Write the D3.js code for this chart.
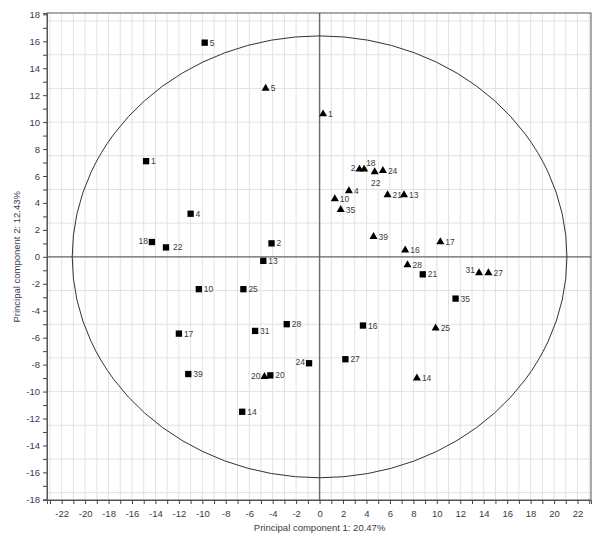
<!DOCTYPE html>
<meta charset="utf-8">
<html>
<head>
  <script src="https://d3js.org/d3.v7.min.js"></script>
  <style>
    body { margin: 0; background: #fff; }
    text { font-family: "Liberation Sans", Arial, sans-serif; fill: #3a3a48; }
  </style>
</head>
<body>
<div id="chart"></div>
<script>
  // group 1 (squares)
  var sqNames = ["5", "1", "4", "18", "22", "2", "13", "10", "25", "17", "31", "28", "39", "20", "24", "14", "27", "16", "21", "35"];
  var sqX = [-9.8, -14.8, -11.0, -14.3, -13.1, -4.1, -4.8, -10.3, -6.5, -12.0, -5.5, -2.8, -11.2, -4.2, -0.9, -6.6, 2.2, 3.7, 8.8, 11.6];
  var sqY = [15.9, 7.1, 3.2, 1.1, 0.7, 1.0, -0.3, -2.4, -2.4, -5.7, -5.5, -5.0, -8.7, -8.8, -7.9, -11.5, -7.6, -5.1, -1.3, -3.1];
  var sqSide = ["r", "r", "r", "l", "r2", "r", "r", "r", "r", "r", "r", "r", "r", "r", "l", "r", "r", "r", "r", "r"];

  // group 2 (triangles)
  var triNames = ["5", "1", "2", "18", "22", "24", "4", "10", "35", "21", "13", "39", "16", "17", "28", "31", "27", "25", "20", "14"];
  var triX = [-4.6, 0.3, 3.4, 3.8, 4.7, 5.4, 2.5, 1.3, 1.8, 5.8, 7.2, 4.6, 7.3, 10.3, 7.5, 13.6, 14.4, 9.9, -4.7, 8.3];
  var triY = [12.5, 10.6, 6.5, 6.5, 6.3, 6.4, 4.9, 4.3, 3.5, 4.6, 4.6, 1.5, 0.5, 1.1, -0.6, -1.2, -1.2, -5.3, -8.9, -9.0];
  var triSide = ["r", "r", "l", "tr", "b", "r", "r", "r", "r", "r", "r", "r", "r", "r", "r", "tl", "r", "r", "l", "r"];

  // confidence ellipse radii
  var ellipseR = [21.1, 16.4];

  var xTicks = d3.range(-22, 23, 2);
  var yTicks = d3.range(-18, 19, 2);
  var xLabel = "Principal component 1: 20.47%";
  var yLabel = "Principal component 2: 12.43%";

  var margin = { top: 13, right: 9, bottom: 48, left: 47 },
    width = 600 - margin.left - margin.right,
    height = 548 - margin.top - margin.bottom;

  var svg = d3.select("#chart")
    .append("svg")
    .attr("width", 600)
    .attr("height", 548)
    .append("g")
    .attr("transform", "translate(" + margin.left + "," + margin.top + ")");

  var x = d3.scaleLinear().domain([-23.25, 23.15]).range([0, width]);
  var y = d3.scaleLinear().domain([-18.05, 18.1]).range([height, 0]);

  // grid
  svg.selectAll(".vg")
    .data(d3.range(-23, 24, 1))
    .enter().append("line")
    .attr("x1", function (d) { return x(d); }).attr("x2", function (d) { return x(d); })
    .attr("y1", 0).attr("y2", height)
    .attr("stroke", "#e2e2e2");
  svg.selectAll(".hg")
    .data(d3.range(-17.5, 18, 2.5))
    .enter().append("line")
    .attr("y1", function (d) { return y(d); }).attr("y2", function (d) { return y(d); })
    .attr("x1", 0).attr("x2", width)
    .attr("stroke", "#e2e2e2");

  // zero lines
  svg.append("line").attr("x1", 0).attr("x2", width).attr("y1", y(0)).attr("y2", y(0))
    .attr("stroke", "#6a6a6a").attr("stroke-width", 1.4);
  svg.append("line").attr("x1", x(0)).attr("x2", x(0)).attr("y1", 0).attr("y2", height)
    .attr("stroke", "#6a6a6a").attr("stroke-width", 1.4);

  // frame
  svg.append("rect").attr("width", width).attr("height", height)
    .attr("fill", "none").attr("stroke", "#555");

  // axes
  var xAxis = svg.append("g")
    .attr("transform", "translate(0," + height + ")")
    .call(d3.axisBottom(x).tickValues(d3.range(-23, 24, 1)).tickSize(4)
      .tickFormat(function (d) { return d % 2 === 0 ? d : ""; }));
  var yAxis = svg.append("g")
    .call(d3.axisLeft(y).tickValues(d3.range(-18, 19, 1)).tickSize(4)
      .tickFormat(function (d) { return d % 2 === 0 ? d : ""; }));
  [xAxis, yAxis].forEach(function (a) {
    a.select(".domain").attr("stroke", "#555");
    a.selectAll(".tick line").attr("stroke", "#444");
    a.selectAll("text").style("font-size", "9.5px").attr("fill", "#3a3a48");
  });
  xAxis.selectAll("text").attr("dy", "1.1em");

  svg.append("text")
    .attr("x", x(0)).attr("y", height + 31)
    .attr("text-anchor", "middle")
    .style("font-size", "9.5px")
    .text(xLabel);
  svg.append("text")
    .attr("transform", "translate(" + (-27) + "," + y(0) + ")rotate(-90)")
    .attr("text-anchor", "middle")
    .style("font-size", "9.5px")
    .text(yLabel);

  // ellipse
  svg.append("ellipse")
    .attr("cx", x(0)).attr("cy", y(0))
    .attr("rx", x(ellipseR[0]) - x(0)).attr("ry", y(0) - y(ellipseR[1]))
    .attr("fill", "none").attr("stroke", "#333").attr("stroke-width", 1);

  function addLabels(names, xs, ys, sides) {
    names.forEach(function (n, i) {
      var px = x(xs[i]), py = y(ys[i]);
      var t = svg.append("text").text(n).style("font-size", "8.5px");
      var s = sides[i];
      if (s === "r") t.attr("x", px + 5).attr("y", py + 3);
      else if (s === "r2") t.attr("x", px + 7).attr("y", py + 3);
      else if (s === "l") t.attr("x", px - 4).attr("y", py + 2).attr("text-anchor", "end");
      else if (s === "tr") t.attr("x", px + 2).attr("y", py - 3);
      else if (s === "tl") t.attr("x", px - 4).attr("y", py);
      else if (s === "b") t.attr("x", px + 1).attr("y", py + 14).attr("text-anchor", "middle");
      if (s === "tl") t.attr("text-anchor", "end");
    });
  }

  svg.selectAll(".sq")
    .data(sqNames)
    .enter().append("path")
    .attr("d", d3.symbol().type(d3.symbolSquare).size(40))
    .attr("transform", function (d, i) { return "translate(" + x(sqX[i]) + "," + y(sqY[i]) + ")"; })
    .attr("fill", "#000");

  svg.selectAll(".tri")
    .data(triNames)
    .enter().append("path")
    .attr("d", d3.symbol().type(d3.symbolTriangle).size(28))
    .attr("transform", function (d, i) { return "translate(" + x(triX[i]) + "," + y(triY[i]) + ")"; })
    .attr("fill", "#000");

  addLabels(sqNames, sqX, sqY, sqSide);
  addLabels(triNames, triX, triY, triSide);
</script>
</body>
</html>
